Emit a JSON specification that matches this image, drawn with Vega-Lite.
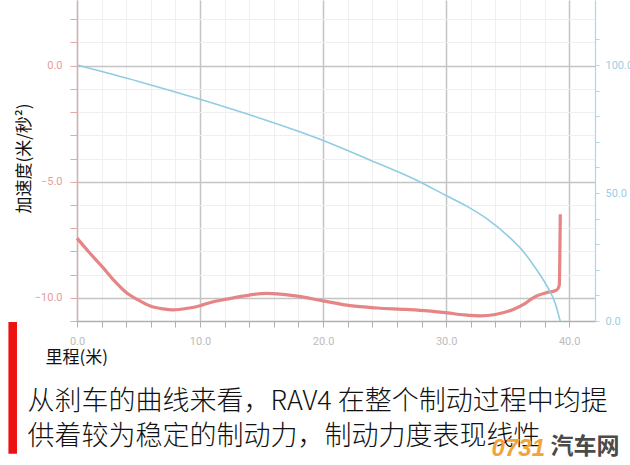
{
  "$schema": "https://vega.github.io/schema/vega-lite/v6.json",
  "width": 518,
  "height": 321,
  "autosize": "none",
  "padding": {"left": 77, "top": 0, "right": 35, "bottom": 144},
  "background": "white",
  "config": {"view": {"stroke": null}},
  "title": {
    "text": "0731",
    "orient": "top",
    "anchor": "end",
    "frame": "group",
    "dx": -50,
    "dy": 465,
    "font": "Liberation Sans",
    "fontStyle": "italic",
    "fontWeight": "bold",
    "fontSize": 24,
    "color": "#f2a43a"
  },
  "datasets": {
    "accel": [
      {"distance": 0, "acceleration": -7.43},
      {"distance": 1, "acceleration": -8.05},
      {"distance": 2.1, "acceleration": -8.69},
      {"distance": 3, "acceleration": -9.25},
      {"distance": 4, "acceleration": -9.77},
      {"distance": 5, "acceleration": -10.1},
      {"distance": 5.9, "acceleration": -10.34},
      {"distance": 7, "acceleration": -10.48},
      {"distance": 7.8, "acceleration": -10.52},
      {"distance": 9, "acceleration": -10.45},
      {"distance": 10, "acceleration": -10.34},
      {"distance": 11, "acceleration": -10.18},
      {"distance": 12.2, "acceleration": -10.06},
      {"distance": 13.5, "acceleration": -9.93},
      {"distance": 15.4, "acceleration": -9.81},
      {"distance": 16.5, "acceleration": -9.84},
      {"distance": 17.6, "acceleration": -9.91},
      {"distance": 20, "acceleration": -10.13},
      {"distance": 22.2, "acceleration": -10.34},
      {"distance": 24.4, "acceleration": -10.44},
      {"distance": 26.8, "acceleration": -10.5},
      {"distance": 28.5, "acceleration": -10.56},
      {"distance": 30.1, "acceleration": -10.65},
      {"distance": 31.5, "acceleration": -10.74},
      {"distance": 32.8, "acceleration": -10.78},
      {"distance": 34, "acceleration": -10.72},
      {"distance": 35.5, "acceleration": -10.49},
      {"distance": 36.4, "acceleration": -10.25},
      {"distance": 37.1, "acceleration": -9.99},
      {"distance": 38.2, "acceleration": -9.77},
      {"distance": 38.86, "acceleration": -9.7},
      {"distance": 39.1, "acceleration": -9.6},
      {"distance": 39.2, "acceleration": -9.45},
      {"distance": 39.25, "acceleration": -7.83},
      {"distance": 39.28, "acceleration": -6.4}
    ],
    "speed": [
      {"distance": 0, "speed": 100},
      {"distance": 5, "speed": 93.6},
      {"distance": 10, "speed": 86.6},
      {"distance": 15, "speed": 79.0},
      {"distance": 18.1, "speed": 73.9},
      {"distance": 20, "speed": 70.5},
      {"distance": 23.5, "speed": 63.5},
      {"distance": 27.6, "speed": 55.0},
      {"distance": 30, "speed": 49.0},
      {"distance": 31.7, "speed": 44.8},
      {"distance": 33.3, "speed": 40.0},
      {"distance": 35.3, "speed": 32.0},
      {"distance": 36.3, "speed": 27.0},
      {"distance": 37.1, "speed": 21.8},
      {"distance": 38.2, "speed": 13.6},
      {"distance": 38.86, "speed": 7.0},
      {"distance": 39.27, "speed": 0}
    ]
  },
  "layer": [
    {
      "data": {"name": "accel"},
      "mark": {"type": "line", "interpolate": "monotone", "color": "#e68585", "strokeWidth": 3.2},
      "encoding": {
        "x": {
          "field": "distance", "type": "quantitative",
          "scale": {"domain": [0, 42.1], "nice": false, "zero": false},
          "axis": {
            "values": [0, 2, 4, 6, 8, 10, 12, 14, 16, 18, 20, 22, 24, 26, 28, 30, 32, 34, 36, 38, 40],
            "format": ".1f",
            "labelExpr": "datum.value % 10 === 0 ? datum.label : ''",
            "labelOverlap": false, "labelFlush": false, "labelBound": false,
            "grid": true,
            "gridColor": {"condition": {"test": "datum.value % 10 === 0", "value": "#c4c4c4"}, "value": "#efefef"},
            "gridWidth": {"condition": {"test": "datum.value % 10 === 0", "value": 1.5}, "value": 1},
            "domainColor": "#b0b0b0", "domainWidth": 1.5,
            "tickColor": "#b0b0b0", "tickSize": 6, "tickWidth": 1,
            "labelColor": "#bcbcbc", "labelFont": "Roboto", "labelFontSize": 11, "labelPadding": 8,
            "title": "里程(米)",
            "titleX": -32, "titleY": 36, "titleAlign": "left", "titleBaseline": "middle",
            "titleFont": "Noto Sans CJK SC", "titleFontSize": 17, "titleFontWeight": "normal", "titleColor": "#111111"
          }
        },
        "y": {
          "field": "acceleration", "type": "quantitative",
          "scale": {"domain": [-11, 2.83], "nice": false, "zero": false},
          "axis": {
            "orient": "left",
            "values": [-11, -10, -9, -8, -7, -6, -5, -4, -3, -2, -1, 0, 1, 2],
            "format": ".1f",
            "labelExpr": "datum.value % 5 === 0 ? datum.label : ''",
            "labelOverlap": false, "labelFlush": false, "labelBound": false,
            "grid": true,
            "gridColor": {"condition": {"test": "datum.value % 5 === 0", "value": "#c4c4c4"}, "value": "#efefef"},
            "gridWidth": {"condition": {"test": "datum.value % 5 === 0", "value": 1.5}, "value": 1},
            "domainColor": "#e8a6a6", "domainWidth": 1.2,
            "tickColor": "#e8a6a6", "tickSize": 7,
            "labelColor": "#e89c9c", "labelFont": "Roboto", "labelFontSize": 11, "labelPadding": 8,
            "title": "加速度(米/秒²)",
            "titleX": -53, "titleY": 158, "titleAngle": -90, "titleAlign": "center", "titleBaseline": "middle",
            "titleFont": "Noto Sans CJK SC", "titleFontSize": 17, "titleFontWeight": "normal", "titleColor": "#111111"
          }
        }
      }
    },
    {
      "data": {"name": "speed"},
      "mark": {"type": "line", "interpolate": "monotone", "color": "#8fcde2", "strokeWidth": 1.6},
      "encoding": {
        "x": {
          "field": "distance", "type": "quantitative",
          "axis": {
            "orient": "top", "domain": false, "ticks": false, "labels": false, "grid": false,
            "title": "▏",
            "titleFont": "DejaVu Sans Mono", "titleFontSize": 111, "titleFontWeight": "normal", "titleColor": "#ee1111",
            "titleX": -68, "titleY": 425, "titleAlign": "left", "titleBaseline": "alphabetic", "titleAngle": 0
          }
        },
        "y": {
          "field": "speed", "type": "quantitative",
          "scale": {"domain": [0, 125.4], "nice": false, "zero": false},
          "axis": {
            "orient": "right",
            "values": [0, 10, 20, 30, 40, 50, 60, 70, 80, 90, 100, 110],
            "labelExpr": "datum.value % 50 === 0 ? format(datum.value, '.1f') : ''",
            "labelOverlap": false, "labelFlush": false, "labelBound": false,
            "grid": false,
            "domainColor": "#a8d8ea", "domainWidth": 1.2,
            "tickColor": "#a8d8ea", "tickSize": 4,
            "labelColor": "#98d0e4", "labelFont": "Roboto", "labelFontSize": 11, "labelPadding": 6,
            "title": ["从刹车的曲线来看，RAV4 在整个制动过程中均提", "供着较为稳定的制动力，制动力度表现线性"],
            "titleX": -568, "titleY": 401, "titleAngle": 0, "titleAlign": "left", "titleBaseline": "middle",
            "titleLineHeight": 35, "titleLimit": 900,
            "titleFont": "Noto Sans CJK SC", "titleFontSize": 27, "titleFontWeight": 300, "titleColor": "#111111"
          }
        }
      }
    },
    {
      "data": {"values": []},
      "mark": {"type": "point"},
      "encoding": {
        "x": {
          "field": "distance", "type": "quantitative",
          "axis": {
            "orient": "top", "domain": false, "ticks": false, "labels": false, "grid": false,
            "title": "汽车网",
            "titleFont": "Noto Sans CJK SC", "titleFontSize": 23, "titleFontWeight": "bold", "titleColor": "#4a4a4a",
            "titleX": 473, "titleY": 446, "titleAlign": "left", "titleBaseline": "middle", "titleAngle": 0
          }
        }
      }
    }
  ],
  "resolve": {"scale": {"y": "independent"}, "axis": {"x": "independent", "y": "independent"}}
}
